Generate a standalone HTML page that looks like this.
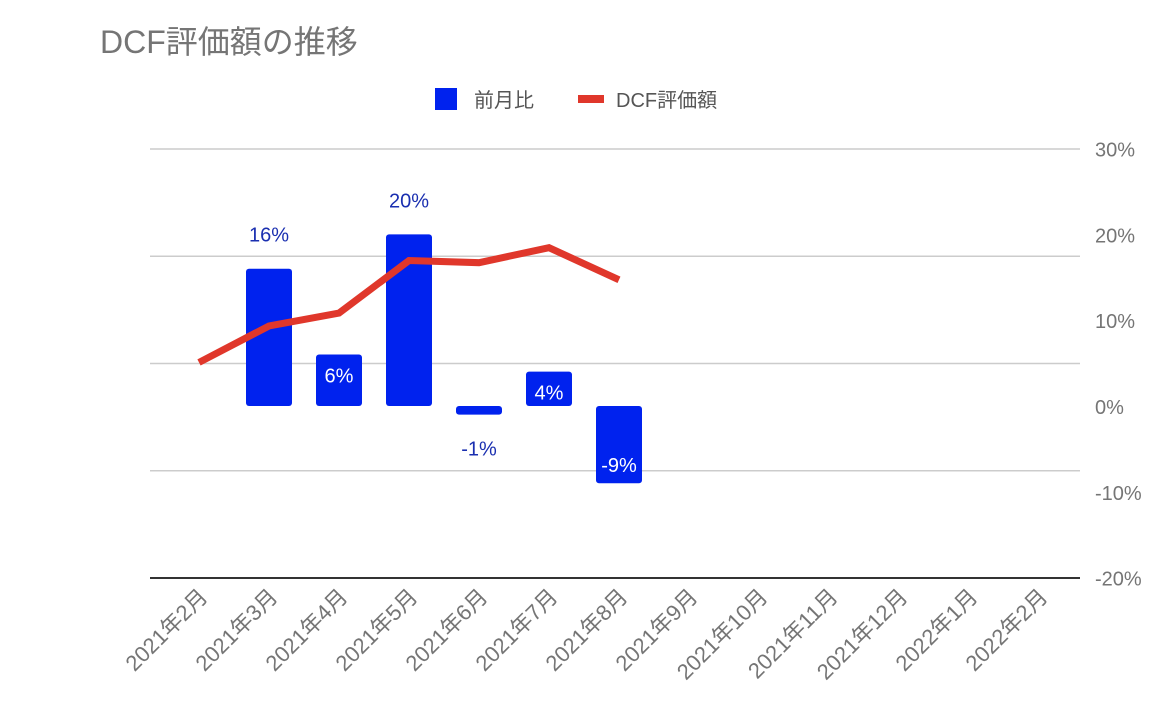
<!DOCTYPE html>
<html><head><meta charset="utf-8"><style>
html,body{margin:0;padding:0;background:#fff;}
svg{display:block;font-family:"Liberation Sans","Noto Sans CJK JP",sans-serif;}
</style></head><body>
<svg id="chart" width="1168" height="712" viewBox="0 0 1168 712">
<text x="100" y="53" font-size="32" fill="#757575">DCF評価額の推移</text>
<g>
<rect x="435" y="88" width="22" height="22" fill="#0022ee"/>
<text x="474" y="107" font-size="20" fill="#555">前月比</text>
<rect x="578" y="95" width="26" height="8" fill="#e0372b"/>
<text x="616" y="107" font-size="20" fill="#555">DCF評価額</text>
</g>
<g id="grid"></g><g id="bars"></g><g id="line"></g><g id="labels"></g><g id="axes"></g>
</svg>
<script>
const categories=["2021年2月","2021年3月","2021年4月","2021年5月","2021年6月","2021年7月","2021年8月","2021年9月","2021年10月","2021年11月","2021年12月","2022年1月","2022年2月"];
const changeValues=[null,16,6,20,-1,4,-9];
const dcfValues=[201,235,247,296,294,308,278];
const rightTicks=[30,20,10,0,-10,-20];
const leftGrid=[0,100,200,300,400];
const NS="http://www.w3.org/2000/svg";
function mk(t,a,p){const e=document.createElementNS(NS,t);for(const k in a)e.setAttribute(k,a[k]);p.appendChild(e);return e;}
const x0=199,step=70;
const xPos=i=>x0+i*step;
const yR=v=>406-v*8.58;
const yL=v=>578-v*(429/400);
const grid=document.getElementById('grid');
leftGrid.forEach(v=>{if(v===0)return;const l=mk('line',{x1:150,x2:1080,y1:yL(v),y2:yL(v),stroke:'#cccccc','stroke-width':1.5},grid);

});
const axes=document.getElementById('axes');
const base=mk('line',{x1:150,x2:1080,y1:578,y2:578,stroke:'#333','stroke-width':2},axes);


rightTicks.forEach(v=>{const t=mk('text',{x:1095,y:yR(v)+8,'font-size':20,fill:'#757575'},axes);t.textContent=v+'%';

});
categories.forEach((c,i)=>{const x=xPos(i)+10,y=598;const t=mk('text',{x:x,y:y,'font-size':22,fill:'#757575','text-anchor':'end',transform:`rotate(-45 ${x} ${y})`},axes);t.textContent=c;

});
const bars=document.getElementById('bars'),labels=document.getElementById('labels');
changeValues.forEach((v,i)=>{if(v==null)return;const x=xPos(i)-23,y1=yR(Math.max(v,0)),y2=yR(Math.min(v,0));
const h=Math.max(y2-y1,4);
const r=mk('rect',{x:x,y:y1,width:46,height:h,rx:3,fill:'#0022ee'},bars);


const inside=Math.abs(v)<10&&Math.abs(v)>=3||v<-5;
let ty,col;
if(v>=10){ty=y1-27;col='#1a2fb0';}
else if(inside){ty=v>0?y1+28:y2-11;col='#fff';}
else {ty=y2+41;col='#1a2fb0';}
const t=mk('text',{x:xPos(i),y:ty,'font-size':20,fill:col,'text-anchor':'middle'},labels);t.textContent=v+'%';

});
const pts=dcfValues.map((v,i)=>xPos(i)+','+yL(v)).join(' ');
const pl=mk('polyline',{points:pts,fill:'none',stroke:'#e0372b','stroke-width':7,'stroke-linejoin':'miter'},document.getElementById('line'));


</script>
</body></html>
